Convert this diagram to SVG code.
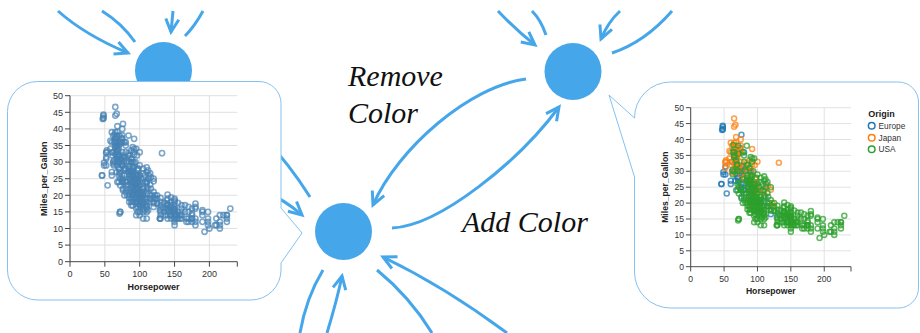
<svg xmlns="http://www.w3.org/2000/svg" xmlns:xlink="http://www.w3.org/1999/xlink" width="920" height="333" viewBox="0 0 920 333">
<style>
.edge{fill:none;stroke:#46a6ea;stroke-width:3}
.head{marker-end:url(#ah)}
.node{fill:#46a6ea}
.callout{fill:#fff;stroke:#84c2f2;stroke-width:1}
.lbl{font-family:"Liberation Serif","Times New Roman",serif;font-style:italic;font-size:30px;fill:#111}
.tick{font-family:"Liberation Sans",Arial,sans-serif;font-size:9px;fill:#333}
.ttl{font-family:"Liberation Sans",Arial,sans-serif;font-size:9px;font-weight:bold;fill:#222}
.leg{font-family:"Liberation Sans",Arial,sans-serif;font-size:8.3px;fill:#333}
.grid{fill:none;stroke:#ddd;stroke-width:0.9}
.axis{fill:none;stroke:#444;stroke-width:1}
.pts{fill:none;stroke:none}
.cB{marker:url(#mB)}
.cE{marker:url(#mE)}
.cJ{marker:url(#mJ)}
.cU{marker:url(#mU)}
.sym{fill:none;stroke-width:1.5}
</style>
<defs>
<marker id="ah" markerUnits="userSpaceOnUse" markerWidth="20" markerHeight="20" orient="auto" refX="0" refY="0" overflow="visible">
<path d="M-13 -6.5 L0 0 L-13 6.5" fill="none" stroke="#46a6ea" stroke-width="3"/>
</marker>
<marker id="mB" markerUnits="userSpaceOnUse" markerWidth="1" markerHeight="1" refX="0" refY="0" overflow="visible"><circle r="2.6" transform="scale(1.4347 0.3012)" fill="none" stroke="#4682b4" stroke-width="1.6" opacity="0.7"/></marker>
<marker id="mE" markerUnits="userSpaceOnUse" markerWidth="1" markerHeight="1" refX="0" refY="0" overflow="visible"><circle r="2.6" transform="scale(1.4347 0.3012)" fill="none" stroke="#1f77b4" stroke-width="1.6" opacity="0.75"/></marker>
<marker id="mJ" markerUnits="userSpaceOnUse" markerWidth="1" markerHeight="1" refX="0" refY="0" overflow="visible"><circle r="2.6" transform="scale(1.4347 0.3012)" fill="none" stroke="#ff7f0e" stroke-width="1.6" opacity="0.75"/></marker>
<marker id="mU" markerUnits="userSpaceOnUse" markerWidth="1" markerHeight="1" refX="0" refY="0" overflow="visible"><circle r="2.6" transform="scale(1.4347 0.3012)" fill="none" stroke="#2ca02c" stroke-width="1.6" opacity="0.75"/></marker>
<path id="dEU" class="pts" d="M46 26 46 26 48 43.1 48 44 48 43.4 48 44.3 47 43 49 29 49 29.8 52 31.5 52 29 54 23 67 27 60 26 60 27 71 28 71 30 70 24 76 41.5 78 31.5 75 29 67 34.3 66 36 74 37.3 76 31.5 78 30.5 71 36 70 30 74 29.5 70 28 78 26 76 24 75 26 86 25 87 25 88 24 90 24 95 25 95 26 102 20 103 20.3 112 22 113 26 120 16.5 115 20 125 17.6 110 24 83 23 80 36 80 28 90 20 90 22 95 23 78 28 67 33 62 33 68 29 62 30 90 30 76 21.5 76 25 79 24 88 30 98 25.4 105 20 115 19 133 16.2 71 27 74 31 77 30"/>
<path id="dJP" class="pts" d="M65 46.6 67 44.6 65 44 68 40.8 67 38 65 39 52 32.8 52 33 52 31 53 33.5 58 36.4 60 39 61 32 62 29.5 65 37 65 32.4 67 31.6 67 37.7 68 31 68 34 68 35 70 32 70 33.8 70 35.1 72 31 75 36 75 32 75 38.1 75 29 75 33 75 37 65 37.2 67 35 68 39.1 69 32 75 40 78 31.3 80 28 85 27.2 88 27 88 27 88 31 90 24 94 25 95 24 95 22 96 23.9 97 24 97 26 97 28 97 27.5 97 22 100 33 92 32.2 96 32 97 24.2 100 24 110 24 110 23.7 116 25.4 120 24.2 122 19 122 20 132 32.7 95 23.5 97 20 92 29.8 90 20 88 33.5 60 36 58 34 68 30 74 36.1 84 32.7 88 30 85 30 100 26 105 22 92 37 70 36 62 38 60 32.9"/>
<path id="dUS" class="pts" d="M63 29 63 30.5 63 36.1 65 34.4 65 29.9 65 36 65 35 64 38.3 70 32.1 70 30 70 26 72 26.5 72 25 75 24.5 75 24 72 15 72 15 71 14.5 80 23 80 22 80 24 68 33.5 69 32 71 38 72 35.5 74 30 78 27.5 78 36 80 33 80 35 84 38 84 27.2 84 32 84 27 84 28 85 21 85 26 85 28.8 85 20.2 85 19.2 86 25 86 26 88 27.4 88 18 88 19 88 21 88 24 88 26 88 27 88 23 90 21 90 28 90 23 90 25.5 90 26.5 90 27.5 90 22.4 90 20.5 90 19 90 16.9 90 28.8 91 23.5 92 28.4 92 24.3 92 21.5 92 34 95 22 95 19 95 20 95 24 95 25 95 26 95 18 95 17.5 95 16 96 25.8 96 20.8 97 18 97 19 97 22 97 24 97 15 97 16.5 98 18 98 21 98 23 100 15 100 16 100 17 100 17.5 100 18 100 19 100 20 100 22 100 20.2 100 18.5 100 21 100 23 105 15 105 16 105 17 105 18 105 19 105 20 105 17.5 105 22 105 26.6 107 19 107 15.5 108 24 110 15 110 16 110 16.5 110 17 110 18 110 19 110 20.6 110 21.5 110 22.4 110 27 110 28.4 112 15.5 112 25 115 18 115 19 115 23.2 115 26.6 120 17.6 120 18 120 19.2 125 17.5 125 19 129 15.5 130 15 130 16 130 17 130 18 130 19.2 129 13 130 13 130 14 129 13 135 15 135 17.7 137 14 138 16 139 17 139 18.5 140 13 140 14 140 15 140 16 140 17 140 17.5 140 19 140 20.2 142 15.5 143 16.5 144 14 145 13 145 14 145 15 145 16 145 17 145 18 145 19.4 148 16 149 15.5 150 11 150 12 150 13 150 13 150 14 150 14 150 15 150 15 150 16 150 16 150 17 150 18 150 18.5 150 19 150 15.5 152 14 153 13 153 14 155 13 155 15 155 17.7 158 13 158 14 160 13 160 14 160 15 160 16 160 17 165 15 165 17 167 12 167 13 170 13 170 15 170 16.5 170 12 175 13 175 13 175 14 175 14.5 175 16 175 12 180 12 180 13 180 16 180 16.5 180 17.5 180 11 190 12 190 14 190 15 190 15.5 193 9 198 11 198 12 198 13 198 15 200 10 208 11 210 11 210 13 215 10 215 11 215 14 215 12 220 14 225 12 225 13 225 14 225 14 230 16 105 13 100 14 110 13 88 17 95 14 125 20 120 21 90 34.5 88 31 92 33 95 34 100 29 105 28 112 27.5 68 24 72 23 76 22 78 20 80 21 82 20 85 18 87 22 90 18 93 19 94 21 96 22 98 20 102 17 103 19 103 21 104 18 106 21 108 17 118 20 116 22 120 25 108 26 100 26 98 28 86 32 94 30 82 30 105 24 102 25"/>
<g id="frame">
<path class="grid" d="M0 0V-166M34.85 0V-166M69.7 0V-166M104.55 0V-166M139.4 0V-166M0 -16.6H167.3M0 -33.2H167.3M0 -49.8H167.3M0 -66.4H167.3M0 -83H167.3M0 -99.6H167.3M0 -116.2H167.3M0 -132.8H167.3M0 -149.4H167.3M0 -166H167.3"/>
<path class="axis" d="M0 5V0H167.3V5M-5 -166H0V0M34.85 0v5M69.7 0v5M104.55 0v5M139.4 0v5M-5 0H0M-5 -16.6H0M-5 -33.2H0M-5 -49.8H0M-5 -66.4H0M-5 -83H0M-5 -99.6H0M-5 -116.2H0M-5 -132.8H0M-5 -149.4H0"/>
<g class="tick" text-anchor="end">
<text x="-7" y="3.3">0</text><text x="-7" y="-13.3">5</text><text x="-7" y="-29.9">10</text><text x="-7" y="-46.5">15</text><text x="-7" y="-63.1">20</text><text x="-7" y="-79.7">25</text><text x="-7" y="-96.3">30</text><text x="-7" y="-112.9">35</text><text x="-7" y="-129.5">40</text><text x="-7" y="-146.1">45</text><text x="-7" y="-162.7">50</text>
</g>
<g class="tick" text-anchor="middle">
<text x="0" y="15.5">0</text><text x="34.85" y="15.5">50</text><text x="69.7" y="15.5">100</text><text x="104.55" y="15.5">150</text><text x="139.4" y="15.5">200</text>
</g>
<text class="ttl" x="83.6" y="28.5" text-anchor="middle">Horsepower</text>
<text class="ttl" transform="translate(-23.5 -83) rotate(-90)" text-anchor="middle">Miles_per_Gallon</text>
</g>
</defs>
<rect width="920" height="333" fill="#fff"/>
<g id="connectors">
<path class="edge head" d="M58 11 Q85 35 128 53"/>
<path class="edge" d="M102 11 Q121.5 23 135 42"/>
<path class="edge head" d="M173 11 Q172 22 171 32"/>
<path class="edge" d="M203 11 Q194.5 26.5 185 36"/>
<path class="edge" d="M262 135 Q290 165 310 197"/>
<path class="edge head" d="M262 190 Q285 200 302 215"/>
<path class="edge" d="M300 333 Q306 298 323 270"/>
<path class="edge head" d="M327 333 Q337 300 342 276"/>
<path class="edge" d="M432 333 Q410 297 377 270"/>
<path class="edge head" d="M507 333 Q445 287 383 257"/>
<path class="edge head" d="M498 11 Q516 30 535 45"/>
<path class="edge" d="M532 11 Q541 20 546 35"/>
<path class="edge head" d="M620 11 Q608 22 601 39"/>
<path class="edge" d="M612 53 Q645 42 672 11"/>
<path id="remove-color" class="edge head" d="M526 79 C470 86 398 148 373 205"/>
<path id="add-color" class="edge head" d="M392 228 C440 226 520 160 559 107"/>
<text class="lbl" x="348" y="86">Remove</text>
<text class="lbl" x="348" y="123">Color</text>
<text class="lbl" x="462" y="232">Add Color</text>
</g>
<g id="node-a"><circle class="node" cx="163.5" cy="70.5" r="28.5"/></g>
<g id="node-b"><circle class="node" cx="343.5" cy="231.5" r="28.5"/></g>
<g id="node-c"><circle class="node" cx="573" cy="71.5" r="28.5"/></g>
<g id="callout-b">
<path class="callout" d="M37.5 81.5H259A22 22 0 0 1 281 103.5V208L302 233L281 263V270A30 30 0 0 1 251 300H37.5A30 30 0 0 1 7.5 270V111.5A30 30 0 0 1 37.5 81.5Z"/>
<use xlink:href="#frame" href="#frame" transform="translate(70 261.7)"/>
<g transform="matrix(0.697 0 0 -3.32 70 261.7)">
<use class="cB" xlink:href="#dEU" href="#dEU"/>
<use class="cB" xlink:href="#dJP" href="#dJP"/>
<use class="cB" xlink:href="#dUS" href="#dUS"/>
</g>
</g>
<g id="callout-c">
<path class="callout" d="M670.5 82H898.5A20 20 0 0 1 918.5 102V288A20 20 0 0 1 898.5 308H670.5A36 36 0 0 1 634.5 272V177L609 95L634.5 118A36 36 0 0 1 670.5 82Z"/>
<use xlink:href="#frame" href="#frame" transform="translate(690.7 266.7) scale(0.958)"/>
<g transform="translate(690.7 266.7) scale(0.958) matrix(0.697 0 0 -3.32 0 0)">
<use class="cE" xlink:href="#dEU" href="#dEU"/>
<use class="cJ" xlink:href="#dJP" href="#dJP"/>
<use class="cU" xlink:href="#dUS" href="#dUS"/>
</g>
<text class="ttl" x="868.3" y="117.3" font-size="8.6">Origin</text>
<circle class="sym" cx="871.7" cy="125.7" r="3.3" stroke="#1f77b4"/>
<circle class="sym" cx="871.7" cy="137.7" r="3.3" stroke="#ff7f0e"/>
<circle class="sym" cx="871.7" cy="149.3" r="3.3" stroke="#2ca02c"/>
<text class="leg" x="878.5" y="128.6">Europe</text>
<text class="leg" x="878.5" y="140.6">Japan</text>
<text class="leg" x="878.5" y="152.2">USA</text>
</g>
</svg>
